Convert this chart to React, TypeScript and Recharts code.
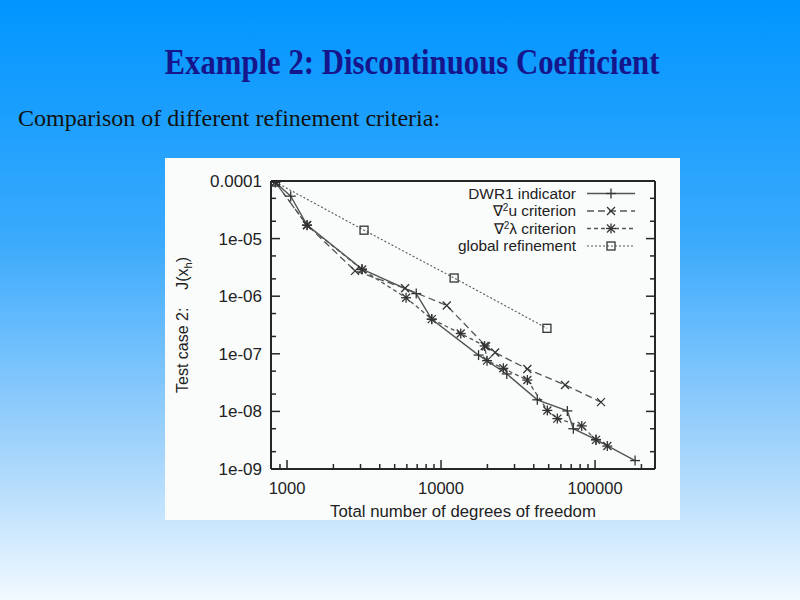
import React from 'react';
import { LineChart, Line, XAxis, YAxis, Legend } from 'recharts';

// ---- data ----
const dwrDofs = [840, 1057, 1349, 3069, 6902, 8702, 17520, 26710, 42170, 66070, 72270, 101400, 181900];
const dwrVals = [9.5e-5, 5.45e-5, 1.72e-5, 2.96e-6, 1.11e-6, 3.97e-7, 9.5e-8, 4.47e-8, 1.59e-8, 1.02e-8, 5.0e-9, 3.25e-9, 1.4e-9];

const uDofs = [840, 1349, 2765, 5837, 10890, 19600, 22430, 36330, 63830, 109300];
const uVals = [9.5e-5, 1.72e-5, 2.75e-6, 1.37e-6, 6.9e-7, 1.35e-7, 1.05e-7, 5.45e-8, 2.88e-8, 1.45e-8];

const lamDofs = [840, 1349, 3069, 5928, 8702, 13420, 19200, 19900, 25380, 36330, 48980, 56890, 81950, 101400, 120100];
const lamVals = [9.5e-5, 1.7e-5, 2.9e-6, 9.4e-7, 4.0e-7, 2.25e-7, 1.37e-7, 7.6e-8, 5.6e-8, 3.5e-8, 1.04e-8, 7.5e-9, 5.6e-9, 3.2e-9, 2.5e-9];

const globalDofs = [840, 3162, 12160, 48700];
const globalVals = [9.6e-5, 1.4e-5, 2.07e-6, 2.77e-7];

const seriesNames = ['DWR1 indicator', '\u2207\u00b2u criterion', '\u2207\u00b2\u03bb criterion', 'global refinement'];

const xMajorTicks = [1000, 10000, 100000];
const xTickLabels = ['1000', '10000', '100000'];
const xMinorTicks = [900, 2000, 3000, 4000, 5000, 6000, 7000, 8000, 9000, 20000, 30000, 40000, 50000, 60000, 70000, 80000, 90000, 200000];

const yMajorTicks = [1e-9, 1e-8, 1e-7, 1e-6, 1e-5, 1e-4];
const yTickLabels = ['1e-09', '1e-08', '1e-07', '1e-06', '1e-05', '0.0001'];
const yMinorTicks = [2e-9, 5e-9, 2e-8, 5e-8, 2e-7, 5e-7, 2e-6, 5e-6, 2e-5, 5e-5];

const xDomain = [787, 245000];
const yDomain = [1e-9, 1e-4];

const toPoints = (xs: number[], ys: number[]) => xs.map((x, i) => ({ x, y: ys[i] }));
const dwrData = toPoints(dwrDofs, dwrVals);
const uData = toPoints(uDofs, uVals);
const lamData = toPoints(lamDofs, lamVals);
const globalData = toPoints(globalDofs, globalVals);

// ---- styles ----
const axisColor = '#262626';
const lineColor = '#555';
const markColor = '#333';
const sansFont = "'Liberation Sans', Arial, Helvetica, sans-serif";
const serifFont = "'Liberation Serif', 'Times New Roman', serif";

const majorIndex = (v: number, majors: number[]) => majors.findIndex((m) => Math.abs(m - v) / m < 1e-6);

function markerShape(kind: string, cx: number, cy: number) {
  const s = 5;
  const c = 4;
  const st = { stroke: markColor, strokeWidth: 1.3, fill: 'none' };
  if (kind === 'plus')
    return (
      <g>
        <line x1={cx - s} y1={cy} x2={cx + s} y2={cy} {...st} />
        <line x1={cx} y1={cy - s} x2={cx} y2={cy + s} {...st} />
      </g>
    );
  if (kind === 'cross')
    return (
      <g>
        <line x1={cx - c} y1={cy - c} x2={cx + c} y2={cy + c} {...st} />
        <line x1={cx - c} y1={cy + c} x2={cx + c} y2={cy - c} {...st} />
      </g>
    );
  if (kind === 'star')
    return (
      <g>
        <line x1={cx - s} y1={cy} x2={cx + s} y2={cy} {...st} />
        <line x1={cx} y1={cy - s} x2={cx} y2={cy + s} {...st} />
        <line x1={cx - c} y1={cy - c} x2={cx + c} y2={cy + c} {...st} />
        <line x1={cx - c} y1={cy + c} x2={cx + c} y2={cy - c} {...st} />
      </g>
    );
  return <rect x={cx - 4} y={cy - 4} width={8} height={8} {...st} />;
}

const makeDot = (kind: string) => (props: any) => {
  const { cx, cy, index } = props;
  if (cx == null || cy == null) return <g key={`e-${kind}-${index}`} />;
  return <g key={`${kind}-${index}`}>{markerShape(kind, cx, cy)}</g>;
};

const seriesStyle = [
  { kind: 'plus', dash: undefined as string | undefined, width: 1.4 },
  { kind: 'cross', dash: '7 4', width: 1.3 },
  { kind: 'star', dash: '4 3', width: 1.3 },
  { kind: 'square', dash: '2 2', width: 1.1 },
];

// ---- ticks ----
function BottomTick(props: any) {
  const { x, y, payload } = props;
  const i = majorIndex(payload.value, xMajorTicks);
  const len = i >= 0 ? 9 : 5;
  return (
    <g>
      <line x1={x} y1={y} x2={x} y2={y - len} stroke={axisColor} strokeWidth={1.5} />
      {i >= 0 && (
        <text x={x} y={y + 25} textAnchor="middle" fontSize={16.5} fontFamily={sansFont} fill="#222">
          {xTickLabels[i]}
        </text>
      )}
    </g>
  );
}

function TopTick(props: any) {
  const { x, y, payload } = props;
  const i = majorIndex(payload.value, xMajorTicks);
  const len = i >= 0 ? 9 : 5;
  return <line x1={x} y1={y} x2={x} y2={y + len} stroke={axisColor} strokeWidth={1.5} />;
}

function LeftTick(props: any) {
  const { x, y, payload } = props;
  const i = majorIndex(payload.value, yMajorTicks);
  const len = i >= 0 ? 9 : 5;
  return (
    <g>
      <line x1={x} y1={y} x2={x + len} y2={y} stroke={axisColor} strokeWidth={1.5} />
      {i >= 0 && (
        <text x={x - 9} y={y + 6} textAnchor="end" fontSize={17} fontFamily={sansFont} fill="#222">
          {yTickLabels[i]}
        </text>
      )}
    </g>
  );
}

function RightTick(props: any) {
  const { x, y, payload } = props;
  const i = majorIndex(payload.value, yMajorTicks);
  const len = i >= 0 ? 9 : 5;
  return <line x1={x} y1={y} x2={x - len} y2={y} stroke={axisColor} strokeWidth={1.5} />;
}

// ---- legend ----
function renderName(name: string) {
  const parts = name.split('\u00b2');
  if (parts.length === 1) return name;
  return (
    <>
      {parts[0]}
      <tspan dy={-5} fontSize={10}>2</tspan>
      <tspan dy={5}>{parts[1]}</tspan>
    </>
  );
}

const legendRows = [10.5, 28, 45.5, 63];

function LegendContent() {
  return (
    <svg width={240} height={80} style={{ display: 'block', overflow: 'visible' }}>
      {seriesNames.map((name, i) => {
        const st = seriesStyle[i];
        const ry = legendRows[i];
        return (
          <g key={`lg-${i}`}>
            <text x={161} y={ry + 5.2} textAnchor="end" fontSize={15.4} fontFamily={sansFont} fill="#222">
              {renderName(name)}
            </text>
            <line x1={172} y1={ry} x2={220} y2={ry} stroke={lineColor} strokeWidth={st.width} strokeDasharray={st.dash} />
            {markerShape(st.kind, 196, ry)}
          </g>
        );
      })}
    </svg>
  );
}

// ---- axis labels ----
function XLabel(props: any) {
  const vb = props.viewBox || { x: 106, y: 311, width: 384, height: 51 };
  return (
    <text x={vb.x + vb.width / 2} y={vb.y + 48} textAnchor="middle" fontSize={16.8} fontFamily={sansFont} fill="#222">
      Total number of degrees of freedom
    </text>
  );
}

function YLabel(props: any) {
  const vb = props.viewBox || { x: 0, y: 23, width: 106, height: 288 };
  const cy = vb.y + vb.height / 2;
  const cx = 23;
  return (
    <text
      x={cx}
      y={cy}
      transform={`rotate(-90 ${cx} ${cy})`}
      textAnchor="middle"
      fontSize={16}
      fontFamily={sansFont}
      fill="#222"
      style={{ whiteSpace: 'pre' }}
    >
      {'Test case 2:    J(x'}
      <tspan dy={4} fontSize={11}>h</tspan>
      <tspan dy={-4}>)</tspan>
    </text>
  );
}

const allXTicks = [...xMajorTicks, ...xMinorTicks].sort((a, b) => a - b);
const allYTicks = [...yMajorTicks, ...yMinorTicks].sort((a, b) => a - b);

export default function App() {
  return (
    <div
      style={{
        position: 'absolute',
        left: 0,
        top: 0,
        width: 800,
        height: 600,
        overflow: 'hidden',
        background: 'linear-gradient(to bottom, #0095ff 0%, #3aaafc 40%, #a3d4fb 75%, #f2f9ff 100%)',
      }}
    >
      <svg width={800} height={600} style={{ position: 'absolute', left: 0, top: 0 }}>
        <text
          x={412}
          y={74}
          textAnchor="middle"
          fontFamily={serifFont}
          fontWeight="bold"
          fontSize={36}
          fill="#16168c"
          textLength={495}
          lengthAdjust="spacingAndGlyphs"
        >
          Example 2: Discontinuous Coefficient
        </text>
        <text x={18} y={126} fontFamily={serifFont} fontSize={24} fill="#111">
          Comparison of different refinement criteria:
        </text>
      </svg>
      <div style={{ position: 'absolute', left: 165, top: 158, width: 515, height: 362, background: '#fafcfc' }}>
        <LineChart width={515} height={362} margin={{ top: 22, right: 24, bottom: 0, left: 0 }}>
          <XAxis
            xAxisId={0}
            dataKey="x"
            type="number"
            scale="log"
            domain={xDomain}
            allowDataOverflow
            ticks={allXTicks}
            interval={0}
            tickSize={0}
            tickMargin={0}
            tickLine={false}
            tick={BottomTick}
            axisLine={{ stroke: axisColor, strokeWidth: 2 }}
            height={51}
            orientation="bottom"
            label={{ content: XLabel }}
          />
          <XAxis
            xAxisId="top"
            type="number"
            scale="log"
            domain={xDomain}
            allowDataOverflow
            ticks={allXTicks}
            interval={0}
            tickSize={0}
            tickMargin={0}
            tickLine={false}
            tick={TopTick}
            axisLine={{ stroke: axisColor, strokeWidth: 2 }}
            height={1}
            orientation="top"
          />
          <YAxis
            yAxisId={0}
            dataKey="y"
            type="number"
            scale="log"
            domain={yDomain}
            allowDataOverflow
            ticks={allYTicks}
            interval={0}
            tickSize={0}
            tickMargin={0}
            tickLine={false}
            tick={LeftTick}
            axisLine={{ stroke: axisColor, strokeWidth: 2 }}
            width={106}
            orientation="left"
            label={{ content: YLabel }}
          />
          <YAxis
            yAxisId="right"
            type="number"
            scale="log"
            domain={yDomain}
            allowDataOverflow
            ticks={allYTicks}
            interval={0}
            tickSize={0}
            tickMargin={0}
            tickLine={false}
            tick={RightTick}
            axisLine={{ stroke: axisColor, strokeWidth: 2 }}
            width={1}
            orientation="right"
          />
          <Line
            data={dwrData}
            dataKey="y"
            name={seriesNames[0]}
            type="linear"
            stroke={lineColor}
            strokeWidth={seriesStyle[0].width}
            dot={makeDot('plus')}
            activeDot={false}
            isAnimationActive={false}
          />
          <Line
            data={uData}
            dataKey="y"
            name={seriesNames[1]}
            type="linear"
            stroke={lineColor}
            strokeWidth={seriesStyle[1].width}
            strokeDasharray={seriesStyle[1].dash}
            dot={makeDot('cross')}
            activeDot={false}
            isAnimationActive={false}
          />
          <Line
            data={lamData}
            dataKey="y"
            name={seriesNames[2]}
            type="linear"
            stroke={lineColor}
            strokeWidth={seriesStyle[2].width}
            strokeDasharray={seriesStyle[2].dash}
            dot={makeDot('star')}
            activeDot={false}
            isAnimationActive={false}
          />
          <Line
            data={globalData}
            dataKey="y"
            name={seriesNames[3]}
            type="linear"
            stroke={lineColor}
            strokeWidth={seriesStyle[3].width}
            strokeDasharray={seriesStyle[3].dash}
            dot={makeDot('square')}
            activeDot={false}
            isAnimationActive={false}
          />
          <Legend
            layout="vertical"
            align="center"
            verticalAlign="middle"
            wrapperStyle={{ left: 250, top: 25, width: 240, height: 80 }}
            content={LegendContent}
          />
        </LineChart>
      </div>
    </div>
  );
}
